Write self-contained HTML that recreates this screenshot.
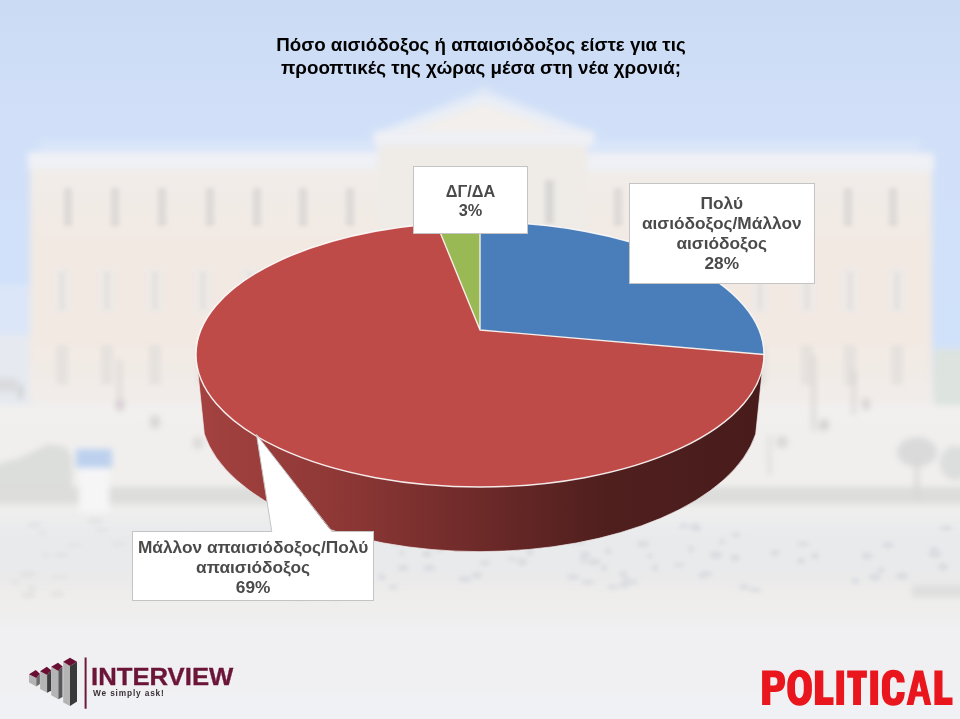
<!DOCTYPE html>
<html lang="el">
<head>
<meta charset="utf-8">
<title>Chart</title>
<style>
  html, body { margin: 0; padding: 0; }
  body { width: 960px; height: 719px; overflow: hidden; position: relative; background: #eeeff2; font-family: "Liberation Sans", sans-serif; }
  #bg, #chart { position: absolute; left: 0; top: 0; width: 960px; height: 719px; display: block; }
  .title { will-change: transform; position: absolute; left: 1px; width: 960px; top: 33.3px; text-align: center; font-weight: bold; font-size: 18.8px; line-height: 23px; color: #000; }
  .lbl { will-change: transform; position: absolute; box-sizing: border-box; background: #fff; border: 1px solid #c4c4c4; color: #4a4a4a; font-weight: bold; font-size: 17.3px; line-height: 19.9px; text-align: center; }
  .l1 { left: 413px; top: 166px; width: 115px; height: 68px; padding-top: 15px; font-size: 16.3px; line-height: 18.8px; }
  .l2 { left: 628.7px; top: 183px; width: 185.5px; height: 101px; padding-top: 9.8px; }
  .l3 { left: 131.6px; top: 531px; width: 242.2px; height: 70px; padding-top: 5px; line-height: 20.2px; }
  .iv { position: absolute; left: 91px; top: 665.2px; font-weight: bold; font-size: 23px; line-height: 24px; transform: scaleX(1.117); -webkit-text-stroke: 0.3px #6b1538; color: #6b1538; white-space: nowrap; transform-origin: 0 0; }
  .ask { will-change: transform; position: absolute; left: 93px; top: 687px; font-weight: bold; font-size: 8.3px; line-height: 12px; color: #3a3038; white-space: nowrap; letter-spacing: 0.85px; }
</style>
</head>
<body>
<svg id="bg" width="960" height="719" viewBox="0 0 960 719">
  <defs>
    <linearGradient id="sky" x1="0" y1="0" x2="0" y2="400" gradientUnits="userSpaceOnUse">
      <stop offset="0" stop-color="#cbdbf4"/>
      <stop offset="0.3" stop-color="#d1e0f8"/>
      <stop offset="0.6" stop-color="#d1e1f9"/>
      <stop offset="0.85" stop-color="#d0e1fa"/>
      <stop offset="0.92" stop-color="#dde5ee"/>
      <stop offset="1" stop-color="#eaebec"/>
    </linearGradient>
    <linearGradient id="bld" x1="0" y1="155" x2="0" y2="405" gradientUnits="userSpaceOnUse">
      <stop offset="0" stop-color="#f1edea"/>
      <stop offset="0.35" stop-color="#f2e9e3"/>
      <stop offset="0.75" stop-color="#f2e9e3"/>
      <stop offset="1" stop-color="#f1edea"/>
    </linearGradient>
    <linearGradient id="gnd" x1="0" y1="400" x2="0" y2="719" gradientUnits="userSpaceOnUse">
      <stop offset="0" stop-color="#f2f0ee"/>
      <stop offset="0.25" stop-color="#f0efed"/>
      <stop offset="0.345" stop-color="#eeeeed"/>
      <stop offset="0.42" stop-color="#e9eaec"/>
      <stop offset="0.55" stop-color="#e9e9ea"/>
      <stop offset="0.61" stop-color="#eeedeb"/>
      <stop offset="0.67" stop-color="#efeeed"/>
      <stop offset="0.72" stop-color="#f0f0f2"/>
      <stop offset="1" stop-color="#f0f1f4"/>
    </linearGradient>
    <filter id="b3" x="-5%" y="-5%" width="110%" height="110%"><feGaussianBlur stdDeviation="3"/></filter>
    <filter id="b2" x="-5%" y="-5%" width="110%" height="110%"><feGaussianBlur stdDeviation="2.2"/></filter>
    <filter id="b5" x="-10%" y="-10%" width="120%" height="120%"><feGaussianBlur stdDeviation="5"/></filter>
  </defs>
  <rect width="960" height="719" fill="url(#sky)"/>
  <rect x="-20" y="400" width="1000" height="340" fill="url(#gnd)" filter="url(#b5)"/>
  <g filter="url(#b3)">
    <!-- trees right/left behind building -->
    <rect x="934" y="350" width="40" height="55" fill="#dde3de"/>
    <rect x="-10" y="285" width="42" height="60" fill="#dbe6f8"/>
    <rect x="-10" y="335" width="42" height="70" fill="#e6eaf0"/>
    <rect x="-10" y="378" width="28" height="14" fill="#d9dbde"/>
    <rect x="40" y="140" width="880" height="14" fill="#d9e5f9"/>
    <!-- building body -->
    <rect x="30" y="153" width="902" height="250" fill="url(#bld)"/>
    <!-- central block -->
    <rect x="378" y="130" width="209" height="270" fill="#efebe7"/>
    <polygon points="366,136 484,86 602,136" fill="#d9e5f8"/>
    <polygon points="374,134 484,93 594,134" fill="#e9eef6"/>
    <polygon points="405,132 484,104 563,132" fill="#f3efec"/>
    <rect x="374" y="131" width="220" height="15" fill="#eef0f5"/>
    <rect x="482" y="86" width="4" height="10" fill="#e1e7f1"/>
    <!-- cornice -->
    <rect x="28" y="152" width="350" height="17" fill="#eff1f6"/>
    <rect x="587" y="154" width="347" height="17" fill="#eff1f6"/>
  </g>
  <g filter="url(#b2)" opacity="0.75">
    <rect x="64" y="188" width="8" height="38" fill="#d6d4d3"/>
    <rect x="111" y="188" width="8" height="38" fill="#d6d4d3"/>
    <rect x="158" y="188" width="8" height="38" fill="#d6d4d3"/>
    <rect x="206" y="188" width="8" height="38" fill="#d6d4d3"/>
    <rect x="253" y="188" width="8" height="38" fill="#d6d4d3"/>
    <rect x="299" y="188" width="8" height="38" fill="#d6d4d3"/>
    <rect x="346" y="188" width="8" height="38" fill="#d6d4d3"/>
    <rect x="614" y="188" width="8" height="38" fill="#d6d4d3"/>
    <rect x="660" y="188" width="8" height="38" fill="#d6d4d3"/>
    <rect x="706" y="188" width="8" height="38" fill="#d6d4d3"/>
    <rect x="752" y="188" width="8" height="38" fill="#d6d4d3"/>
    <rect x="798" y="188" width="8" height="38" fill="#d6d4d3"/>
    <rect x="844" y="188" width="8" height="38" fill="#d6d4d3"/>
    <rect x="889" y="188" width="8" height="38" fill="#d6d4d3"/>
    <rect x="54" y="268" width="16" height="44" fill="#ebe9e7"/>
    <rect x="60" y="272" width="4" height="38" fill="#dedcda"/>
    <rect x="56" y="345" width="12" height="40" fill="#e2dfdc"/>
    <rect x="99" y="268" width="16" height="44" fill="#ebe9e7"/>
    <rect x="105" y="272" width="4" height="38" fill="#dedcda"/>
    <rect x="101" y="345" width="12" height="40" fill="#e2dfdc"/>
    <rect x="147" y="268" width="16" height="44" fill="#ebe9e7"/>
    <rect x="153" y="272" width="4" height="38" fill="#dedcda"/>
    <rect x="149" y="345" width="12" height="40" fill="#e2dfdc"/>
    <rect x="195" y="268" width="16" height="44" fill="#ebe9e7"/>
    <rect x="201" y="272" width="4" height="38" fill="#dedcda"/>
    <rect x="197" y="345" width="12" height="40" fill="#e2dfdc"/>
    <rect x="242" y="268" width="16" height="44" fill="#ebe9e7"/>
    <rect x="248" y="272" width="4" height="38" fill="#dedcda"/>
    <rect x="244" y="345" width="12" height="40" fill="#e2dfdc"/>
    <rect x="289" y="268" width="16" height="44" fill="#ebe9e7"/>
    <rect x="295" y="272" width="4" height="38" fill="#dedcda"/>
    <rect x="291" y="345" width="12" height="40" fill="#e2dfdc"/>
    <rect x="336" y="268" width="16" height="44" fill="#ebe9e7"/>
    <rect x="342" y="272" width="4" height="38" fill="#dedcda"/>
    <rect x="338" y="345" width="12" height="40" fill="#e2dfdc"/>
    <rect x="612" y="268" width="16" height="44" fill="#ebe9e7"/>
    <rect x="618" y="272" width="4" height="38" fill="#dedcda"/>
    <rect x="614" y="345" width="12" height="40" fill="#e2dfdc"/>
    <rect x="658" y="268" width="16" height="44" fill="#ebe9e7"/>
    <rect x="664" y="272" width="4" height="38" fill="#dedcda"/>
    <rect x="660" y="345" width="12" height="40" fill="#e2dfdc"/>
    <rect x="705" y="268" width="16" height="44" fill="#ebe9e7"/>
    <rect x="711" y="272" width="4" height="38" fill="#dedcda"/>
    <rect x="707" y="345" width="12" height="40" fill="#e2dfdc"/>
    <rect x="752" y="268" width="16" height="44" fill="#ebe9e7"/>
    <rect x="758" y="272" width="4" height="38" fill="#dedcda"/>
    <rect x="754" y="345" width="12" height="40" fill="#e2dfdc"/>
    <rect x="799" y="268" width="16" height="44" fill="#ebe9e7"/>
    <rect x="805" y="272" width="4" height="38" fill="#dedcda"/>
    <rect x="801" y="345" width="12" height="40" fill="#e2dfdc"/>
    <rect x="842" y="268" width="16" height="44" fill="#ebe9e7"/>
    <rect x="848" y="272" width="4" height="38" fill="#dedcda"/>
    <rect x="844" y="345" width="12" height="40" fill="#e2dfdc"/>
    <rect x="889" y="268" width="16" height="44" fill="#ebe9e7"/>
    <rect x="895" y="272" width="4" height="38" fill="#dedcda"/>
    <rect x="891" y="345" width="12" height="40" fill="#e2dfdc"/>
    <rect x="415" y="180" width="10" height="46" fill="#dedcdb"/>
    <rect x="447" y="180" width="10" height="46" fill="#dedcdb"/>
    <rect x="505" y="180" width="10" height="46" fill="#dedcdb"/>
    <rect x="545" y="180" width="9" height="44" fill="#d2d0cf"/>
  </g>
  <g filter="url(#b3)">
    <!-- kiosk -->
    <rect x="76" y="449" width="36" height="19" fill="#bdd1ee"/>
    <!-- shrubs -->
    <polygon points="-10,466 20,458 48,444 66,447 72,458 72,492 -10,492" fill="#dcdedb"/>
    <!-- dark band -->
    <rect x="-10" y="487" width="980" height="17" fill="#dddddb"/>
    <rect x="79" y="468" width="30" height="44" fill="#f6f6f7"/>
    <!-- trees right -->
    <ellipse cx="917" cy="452" rx="20" ry="15" fill="#dadadb"/>
    <rect x="915" y="460" width="4" height="38" fill="#d6d6d6"/>
    <ellipse cx="955" cy="463" rx="15" ry="17" fill="#dcdddd"/>
    <rect x="812" y="356" width="3" height="75" fill="#d3cfcc"/>
    <rect x="852" y="370" width="3" height="45" fill="#d6d2cf"/>
    <ellipse cx="824" cy="425" rx="5" ry="6" fill="#d2d0ce"/>
    <ellipse cx="866" cy="404" rx="4" ry="6" fill="#d4d2d0"/>
    <ellipse cx="782" cy="442" rx="6" ry="6" fill="#d8d7d5"/>
    <rect x="768" y="435" width="3" height="40" fill="#dad9d7"/>
    <rect x="118" y="360" width="3" height="50" fill="#d6d0d0"/>
    <ellipse cx="120" cy="405" rx="4" ry="6" fill="#d4c9cf"/>
    <ellipse cx="155" cy="422" rx="5" ry="7" fill="#d8d4d2"/>
    <ellipse cx="198" cy="443" rx="5" ry="6" fill="#d9d8d6"/>
    <rect x="18" y="385" width="5" height="14" fill="#d0d0d0"/>
    <rect x="912" y="585" width="60" height="12" fill="#dedede"/>
  </g>
  <g filter="url(#b2)" opacity="0.7">
    <ellipse cx="568" cy="535" rx="5.6" ry="2.1" fill="#d4d7dd"/>
    <ellipse cx="691" cy="549" rx="3.2" ry="3.0" fill="#d4d7dd"/>
    <ellipse cx="402" cy="553" rx="3.3" ry="2.2" fill="#d4d7dd"/>
    <ellipse cx="626" cy="579" rx="3.5" ry="2.4" fill="#d4d7dd"/>
    <ellipse cx="744" cy="587" rx="5.3" ry="2.8" fill="#d4d7dd"/>
    <ellipse cx="946" cy="528" rx="6.4" ry="2.6" fill="#d4d7dd"/>
    <ellipse cx="464" cy="533" rx="4.2" ry="3.6" fill="#d4d7dd"/>
    <ellipse cx="485" cy="563" rx="5.6" ry="2.7" fill="#d4d7dd"/>
    <ellipse cx="698" cy="529" rx="3.2" ry="2.4" fill="#d4d7dd"/>
    <ellipse cx="775" cy="553" rx="4.3" ry="3.2" fill="#d4d7dd"/>
    <ellipse cx="643" cy="544" rx="6.2" ry="3.4" fill="#d4d7dd"/>
    <ellipse cx="522" cy="562" rx="5.1" ry="3.8" fill="#d4d7dd"/>
    <ellipse cx="803" cy="544" rx="6.9" ry="2.2" fill="#d4d7dd"/>
    <ellipse cx="623" cy="574" rx="3.6" ry="3.0" fill="#d4d7dd"/>
    <ellipse cx="403" cy="568" rx="6.1" ry="3.1" fill="#d4d7dd"/>
    <ellipse cx="888" cy="545" rx="5.8" ry="3.2" fill="#d4d7dd"/>
    <ellipse cx="716" cy="555" rx="6.4" ry="3.9" fill="#d4d7dd"/>
    <ellipse cx="655" cy="568" rx="3.2" ry="3.4" fill="#d4d7dd"/>
    <ellipse cx="755" cy="590" rx="6.3" ry="2.6" fill="#d4d7dd"/>
    <ellipse cx="604" cy="568" rx="3.1" ry="2.9" fill="#d4d7dd"/>
    <ellipse cx="477" cy="533" rx="3.2" ry="3.5" fill="#d4d7dd"/>
    <ellipse cx="455" cy="541" rx="4.6" ry="3.7" fill="#d4d7dd"/>
    <ellipse cx="427" cy="554" rx="5.2" ry="3.8" fill="#d4d7dd"/>
    <ellipse cx="855" cy="581" rx="4.1" ry="2.8" fill="#d4d7dd"/>
    <ellipse cx="588" cy="582" rx="6.8" ry="2.3" fill="#d4d7dd"/>
    <ellipse cx="482" cy="540" rx="3.9" ry="3.0" fill="#d4d7dd"/>
    <ellipse cx="722" cy="542" rx="3.0" ry="2.8" fill="#d4d7dd"/>
    <ellipse cx="594" cy="562" rx="6.8" ry="3.4" fill="#d4d7dd"/>
    <ellipse cx="679" cy="565" rx="5.7" ry="2.1" fill="#d4d7dd"/>
    <ellipse cx="902" cy="576" rx="6.5" ry="3.6" fill="#d4d7dd"/>
    <ellipse cx="608" cy="551" rx="3.4" ry="3.3" fill="#d4d7dd"/>
    <ellipse cx="416" cy="529" rx="3.8" ry="2.3" fill="#d4d7dd"/>
    <ellipse cx="577" cy="528" rx="3.0" ry="2.3" fill="#d4d7dd"/>
    <ellipse cx="439" cy="549" rx="3.1" ry="3.7" fill="#d4d7dd"/>
    <ellipse cx="736" cy="535" rx="4.0" ry="2.7" fill="#d4d7dd"/>
    <ellipse cx="591" cy="533" rx="6.4" ry="4.0" fill="#d4d7dd"/>
    <ellipse cx="650" cy="556" rx="3.3" ry="2.2" fill="#d4d7dd"/>
    <ellipse cx="579" cy="542" rx="6.3" ry="2.3" fill="#d4d7dd"/>
    <ellipse cx="393" cy="587" rx="5.1" ry="2.3" fill="#d4d7dd"/>
    <ellipse cx="695" cy="527" rx="5.1" ry="4.0" fill="#d4d7dd"/>
    <ellipse cx="881" cy="570" rx="4.0" ry="2.7" fill="#d4d7dd"/>
    <ellipse cx="477" cy="575" rx="5.1" ry="3.6" fill="#d4d7dd"/>
    <ellipse cx="571" cy="539" rx="6.2" ry="4.0" fill="#d4d7dd"/>
    <ellipse cx="875" cy="577" rx="6.3" ry="3.5" fill="#d4d7dd"/>
    <ellipse cx="512" cy="559" rx="4.4" ry="2.1" fill="#d4d7dd"/>
    <ellipse cx="396" cy="543" rx="4.0" ry="3.4" fill="#d4d7dd"/>
    <ellipse cx="935" cy="554" rx="6.7" ry="4.0" fill="#d4d7dd"/>
    <ellipse cx="934" cy="549" rx="3.9" ry="2.5" fill="#d4d7dd"/>
    <ellipse cx="494" cy="538" rx="5.5" ry="3.8" fill="#d4d7dd"/>
    <ellipse cx="867" cy="556" rx="5.6" ry="3.6" fill="#d4d7dd"/>
    <ellipse cx="429" cy="568" rx="6.6" ry="3.6" fill="#d4d7dd"/>
    <ellipse cx="815" cy="556" rx="3.7" ry="3.6" fill="#d4d7dd"/>
    <ellipse cx="573" cy="577" rx="6.9" ry="2.8" fill="#d4d7dd"/>
    <ellipse cx="613" cy="587" rx="5.9" ry="2.3" fill="#d4d7dd"/>
    <ellipse cx="454" cy="535" rx="6.6" ry="3.6" fill="#d4d7dd"/>
    <ellipse cx="465" cy="579" rx="6.9" ry="3.3" fill="#d4d7dd"/>
    <ellipse cx="583" cy="561" rx="3.5" ry="2.0" fill="#d4d7dd"/>
    <ellipse cx="943" cy="567" rx="5.1" ry="3.9" fill="#d4d7dd"/>
    <ellipse cx="632" cy="582" rx="6.3" ry="2.4" fill="#d4d7dd"/>
    <ellipse cx="526" cy="544" rx="4.0" ry="3.2" fill="#d4d7dd"/>
    <ellipse cx="530" cy="552" rx="3.5" ry="3.8" fill="#d4d7dd"/>
    <ellipse cx="585" cy="555" rx="5.3" ry="3.8" fill="#d4d7dd"/>
    <ellipse cx="624" cy="585" rx="5.0" ry="3.1" fill="#d4d7dd"/>
    <ellipse cx="684" cy="526" rx="4.8" ry="2.4" fill="#d4d7dd"/>
    <ellipse cx="382" cy="577" rx="3.7" ry="2.9" fill="#d4d7dd"/>
    <ellipse cx="801" cy="561" rx="4.3" ry="3.0" fill="#d4d7dd"/>
    <ellipse cx="702" cy="576" rx="3.4" ry="3.1" fill="#d4d7dd"/>
    <ellipse cx="524" cy="543" rx="6.1" ry="3.0" fill="#d4d7dd"/>
    <ellipse cx="706" cy="574" rx="6.6" ry="2.9" fill="#d4d7dd"/>
    <ellipse cx="735" cy="558" rx="5.0" ry="3.4" fill="#d4d7dd"/>
    <ellipse cx="172" cy="563" rx="6.9" ry="3.9" fill="#e1e1e1"/>
    <ellipse cx="266" cy="590" rx="9.7" ry="2.5" fill="#e1e1e1"/>
    <ellipse cx="213" cy="595" rx="9.0" ry="2.3" fill="#e1e1e1"/>
    <ellipse cx="46" cy="555" rx="4.4" ry="2.5" fill="#e1e1e1"/>
    <ellipse cx="28" cy="574" rx="8.7" ry="3.8" fill="#e1e1e1"/>
    <ellipse cx="59" cy="577" rx="8.0" ry="2.3" fill="#e1e1e1"/>
    <ellipse cx="335" cy="597" rx="5.3" ry="3.9" fill="#e1e1e1"/>
    <ellipse cx="151" cy="559" rx="9.9" ry="3.7" fill="#e1e1e1"/>
    <ellipse cx="61" cy="555" rx="7.1" ry="2.7" fill="#e1e1e1"/>
    <ellipse cx="74" cy="545" rx="8.3" ry="2.0" fill="#e1e1e1"/>
    <ellipse cx="211" cy="555" rx="4.1" ry="2.7" fill="#e1e1e1"/>
    <ellipse cx="237" cy="561" rx="4.4" ry="4.0" fill="#e1e1e1"/>
    <ellipse cx="300" cy="598" rx="4.6" ry="2.5" fill="#e1e1e1"/>
    <ellipse cx="15" cy="582" rx="5.6" ry="2.3" fill="#e1e1e1"/>
    <ellipse cx="160" cy="593" rx="8.9" ry="2.5" fill="#e1e1e1"/>
    <ellipse cx="57" cy="594" rx="7.4" ry="3.4" fill="#e1e1e1"/>
    <ellipse cx="34" cy="525" rx="8.1" ry="2.9" fill="#e1e1e1"/>
    <ellipse cx="28" cy="595" rx="7.8" ry="3.6" fill="#e1e1e1"/>
    <ellipse cx="32" cy="588" rx="4.4" ry="3.7" fill="#e1e1e1"/>
    <ellipse cx="172" cy="547" rx="7.3" ry="3.9" fill="#e1e1e1"/>
    <ellipse cx="102" cy="530" rx="7.2" ry="2.5" fill="#e1e1e1"/>
    <ellipse cx="42" cy="533" rx="4.3" ry="2.4" fill="#e1e1e1"/>
    <ellipse cx="119" cy="544" rx="8.6" ry="2.6" fill="#e1e1e1"/>
    <ellipse cx="190" cy="534" rx="6.1" ry="2.0" fill="#e1e1e1"/>
    <ellipse cx="95" cy="521" rx="8.4" ry="3.1" fill="#e1e1e1"/>
  </g>
</svg>

<svg id="chart" width="960" height="719" viewBox="0 0 960 719">
  <defs>
    <linearGradient id="side" x1="196" y1="0" x2="764" y2="0" gradientUnits="userSpaceOnUse">
      <stop offset="0" stop-color="#a44240"/>
      <stop offset="0.25" stop-color="#8e3836"/>
      <stop offset="0.5" stop-color="#6d2a29"/>
      <stop offset="0.72" stop-color="#4f1f1e"/>
      <stop offset="1" stop-color="#481c1b"/>
    </linearGradient>
  </defs>
  <!-- side -->
  <path d="M196 354 L204.3 434 A279.4 140.4 0 0 0 755.7 434 L764 354 Z" fill="url(#side)" stroke="#f3eeee" stroke-opacity="0.7" stroke-width="1"/>
  <!-- top: red -->
  <ellipse cx="480" cy="354.5" rx="284" ry="132.5" fill="#be4b48"/>
  <!-- blue -->
  <path d="M480 330 L480 222 A284 132.5 0 0 1 764 354.5 Z" fill="#4a7ebb"/>
  <!-- green -->
  <path d="M480 330 L436.5 223.6 A284 132.5 0 0 1 480 222 Z" fill="#98b954"/>
  <!-- separators -->
  <path d="M436.5 223.6 L480 330 L480 222 M480 330 L764 354.5" fill="none" stroke="#f6efe9" stroke-width="1.4" stroke-linejoin="round"/>
  <ellipse cx="480" cy="354.5" rx="284" ry="132.5" fill="none" stroke="#ffffff" stroke-width="1.4" stroke-opacity="0.9"/>
</svg>

<div class="title">Πόσο αισιόδοξος ή απαισιόδοξος είστε για τις<br>προοπτικές της χώρας μέσα στη νέα χρονιά;</div>
<div class="lbl l1">ΔΓ/ΔΑ<br>3%</div>
<div class="lbl l2">Πολύ<br>αισιόδοξος/Μάλλον<br>αισιόδοξος<br>28%</div>
<div class="lbl l3">Μάλλον απαισιόδοξος/Πολύ<br>απαισιόδοξος<br>69%</div>
<svg id="logos" width="960" height="719" viewBox="0 0 960 719" style="position:absolute;left:0;top:0">
  <!-- callout pointer -->
  <path d="M271.9 533 L256.5 434.6 L332.6 533 Z" fill="#ffffff"/>
  <path d="M271.8 531.8 L256.5 434.6 L332.4 531.8" fill="none" stroke="#c4c4c4" stroke-width="1"/>
  <!-- POLITICAL -->
  <g fill="#e9161d" fill-rule="evenodd">
    <path d="M762.1 670.5 H775 C782 670.5 785.1 674 785.1 681.3 C785.1 688.5 782 692 775 692 H770.3 V705 H762.1 Z M770.3 677.3 H774 C776.5 677.3 777.4 678.8 777.4 681.4 C777.4 684 776.5 685.5 774 685.5 H770.3 Z"/>
    <path d="M799.6 669.7 C806.5 669.7 811.9 675.5 811.9 685 V690.5 C811.9 700 806.5 705.7 799.6 705.7 C792.7 705.7 787.3 700 787.3 690.5 V685 C787.3 675.5 792.7 669.7 799.6 669.7Z M799.4 676.8 C801.8 676.8 803.75 680 803.75 685 V690 C803.75 695 801.8 698.2 799.4 698.2 C797 698.2 795.05 695 795.05 690 V685 C795.05 680 797 676.8 799.4 676.8Z"/>
    <path d="M814.9 670.5 H823.3 V697.2 H833.5 V705 H814.9 Z"/>
    <rect x="836.3" y="670.5" width="7.8" height="34.5"/>
    <path d="M847.2 670.5 H866.9 V677.7 H861 V705 H853.1 V677.7 H847.2 Z"/>
    <rect x="870.2" y="670.5" width="7.9" height="34.5"/>
    <path d="M904.75 682.6 C904.75 674 900 669.75 893.3 669.75 C886 669.75 881.9 675 881.9 683 V692.5 C881.9 700.5 886 705.75 893.3 705.75 C900 705.75 904.75 701.5 904.75 692 H896.9 C896.9 696.5 895.8 698.6 893.4 698.6 C891 698.6 890 696.5 890 692.5 V683 C890 679 891 676.9 893.4 676.9 C895.8 676.9 896.9 679 896.9 682.6 Z"/>
    <path d="M915 670.5 H923.1 L931.25 705 H924.7 L922.6 696.4 H915.5 L913.4 705 H906.5 Z M919.05 681.5 L921.35 691.4 H916.75 Z"/>
    <path d="M934.4 670.5 H942.5 V697.6 H952.5 V705 H934.4 Z"/>
  </g>
  <!-- INTERVIEW mark -->
  <g>
    <!-- bar1 -->
    <polygon points="29,674.2 36.3,678 36.3,686.6 29,682.5" fill="#b4b4b4"/>
    <polygon points="36.3,678 39.9,673.7 39.9,683.9 36.3,686.6" fill="#6a6a6b"/>
    <polygon points="29,674.2 35.8,670.1 39.9,673.7 36.3,678" fill="#6a0f33"/>
    <!-- bar2 -->
    <polygon points="40.1,671.2 47.1,674.9 47.1,692.7 40.1,688.9" fill="#b4b4b4"/>
    <polygon points="47.1,674.9 51.2,670.3 51.2,690.7 47.1,692.7" fill="#3c3c3e"/>
    <polygon points="40.1,671.2 46.8,666.7 51.2,670.3 47.1,674.9" fill="#6a0f33"/>
    <!-- bar3 -->
    <polygon points="51.2,666.7 58.4,671 58.4,699.3 51.2,695.2" fill="#b4b4b4"/>
    <polygon points="58.4,671 62.5,666.3 62.5,697 58.4,699.3" fill="#58585a"/>
    <polygon points="51.2,666.7 58,662.7 62.5,666.3 58.4,671" fill="#6a0f33"/>
    <!-- bar4 -->
    <polygon points="63.2,661.8 70,666.1 70,705.9 63.2,702.4" fill="#b4b4b4"/>
    <polygon points="70,666.1 77,661.8 77,701.5 70,705.9" fill="#39393b"/>
    <polygon points="63.2,661.8 70,657.7 77,661.8 70,666.1" fill="#6a0f33"/>
    <rect x="84.6" y="657.5" width="2" height="51.2" fill="#6e1a3a"/>
  </g>
</svg>
<div class="iv">INTERVIEW</div>
<div class="ask">We simply ask!</div>
</body>
</html>
